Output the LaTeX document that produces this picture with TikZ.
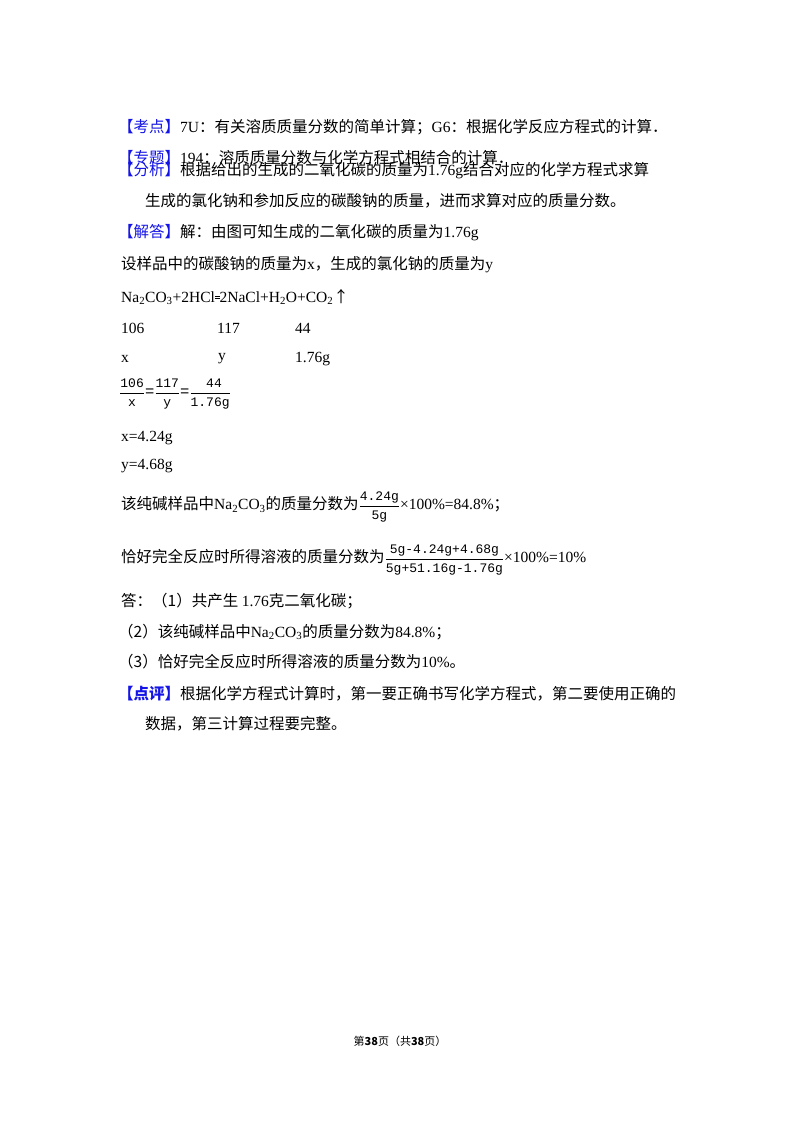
\documentclass[tikz,border=0pt]{standalone}
\usepackage{amsmath}
\usepackage{fontspec}
\setmainfont{Liberation Serif}
\newfontfamily\cjk{Noto Sans CJK SC}
\newfontfamily\mono{Liberation Mono}
\newcommand{\zh}[1]{{\cjk #1}}
\definecolor{brk}{RGB}{20,20,230}
\newcommand{\hd}[1]{\textcolor{brk}{\zh{【#1】}}}
\newcommand{\mf}[2]{\ensuremath{\dfrac{\text{\mono\fontsize{13}{14}\selectfont #1}}{\text{\mono\fontsize{13}{14}\selectfont #2}}}}
\begin{document}
\begin{tikzpicture}[x=1pt,y=-1pt,
  ln/.style={anchor=west,inner sep=0pt,font=\fontsize{15.5}{18}\selectfont}]
\useasboundingbox[fill=white] (0,0) rectangle (800,1132);
\node[ln] (l1) at (118,127) {\hd{考点}7U\zh{：有关溶质质量分数的简单计算；}G6\zh{：根据化学反应方程式的计算．}};
\node[ln] (l2) at (118,158) {\hd{专题}194\zh{：溶质质量分数与化学方程式相结合的计算．}};
\node[ln] (l3) at (118,171) {\hd{分析}\zh{根据给出的生成的二氧化碳的质量为}1.76g\zh{结合对应的化学方程式求算}};
\node[ln] (l4) at (145,201) {\zh{生成的氯化钠和参加反应的碳酸钠的质量，进而求算对应的质量分数。}};
\node[ln] (l5) at (118,233) {\hd{解答}\zh{解：由图可知生成的二氧化碳的质量为}1.76g};
\node[ln] (l6) at (121,265) {\zh{设样品中的碳酸钠的质量为}x\zh{，生成的氯化钠的质量为}y};
\node[ln] (l7) at (121,297) {Na\textsubscript{2}CO\textsubscript{3}+2HCl\rule[0.22em]{0.3em}{0.8pt}\hspace{-0.3em}\rule[0.38em]{0.3em}{0.8pt}2NaCl+H\textsubscript{2}O+CO\textsubscript{2}\zh{↑}};
\node[ln] (a1) at (121,328) {106};
\node[ln] (a2) at (217,328) {117};
\node[ln] (a3) at (295,328) {44};
\node[ln] (b1) at (121,359) {x};
\node[ln] (b2) at (218,359) {y};
\node[ln] (b3) at (295,359) {1.76g};
\node[ln] (f1) at (119,394) {\mf{106}{x}{\mono=}\mf{117}{y}{\mono=}\mf{\ 44}{1.76g}};
\node[ln] (l8) at (121,438) {x=4.24g};
\node[ln] (l9) at (121,466) {y=4.68g};
\node[ln] (l10) at (121,507) {\zh{该纯碱样品中}Na\textsubscript{2}CO\textsubscript{3}\zh{的质量分数为}\mf{4.24g}{5g}×100\%=84.8\%\zh{；}};
\node[ln] (l11) at (121,560) {\zh{恰好完全反应时所得溶液的质量分数为}\mf{5g-4.24g+4.68g}{5g+51.16g-1.76g}×100\%=10\%};
\node[ln] (l12) at (121,601) {\zh{答：（1）共产生 }1.76\zh{克二氧化碳；}};
\node[ln] (l13) at (118,632) {\zh{（2）该纯碱样品中}Na\textsubscript{2}CO\textsubscript{3}\zh{的质量分数为}84.8\%\zh{；}};
\node[ln] (l14) at (118,662) {\zh{（3）恰好完全反应时所得溶液的质量分数为}10\%\zh{。}};
\node[ln] (l15) at (118,694) {\textcolor{brk}{\zh{\bfseries【点评】}}\zh{根据化学方程式计算时，第一要正确书写化学方程式，第二要使用正确的}};
\node[ln] (l16) at (145,724) {\zh{数据，第三计算过程要完整。}};
\node[inner sep=0pt,font=\fontsize{11}{13}\selectfont] (ft) at (400,1041) {\zh{第\textbf{38}页（共\textbf{38}页）}};
\end{tikzpicture}
\end{document}
